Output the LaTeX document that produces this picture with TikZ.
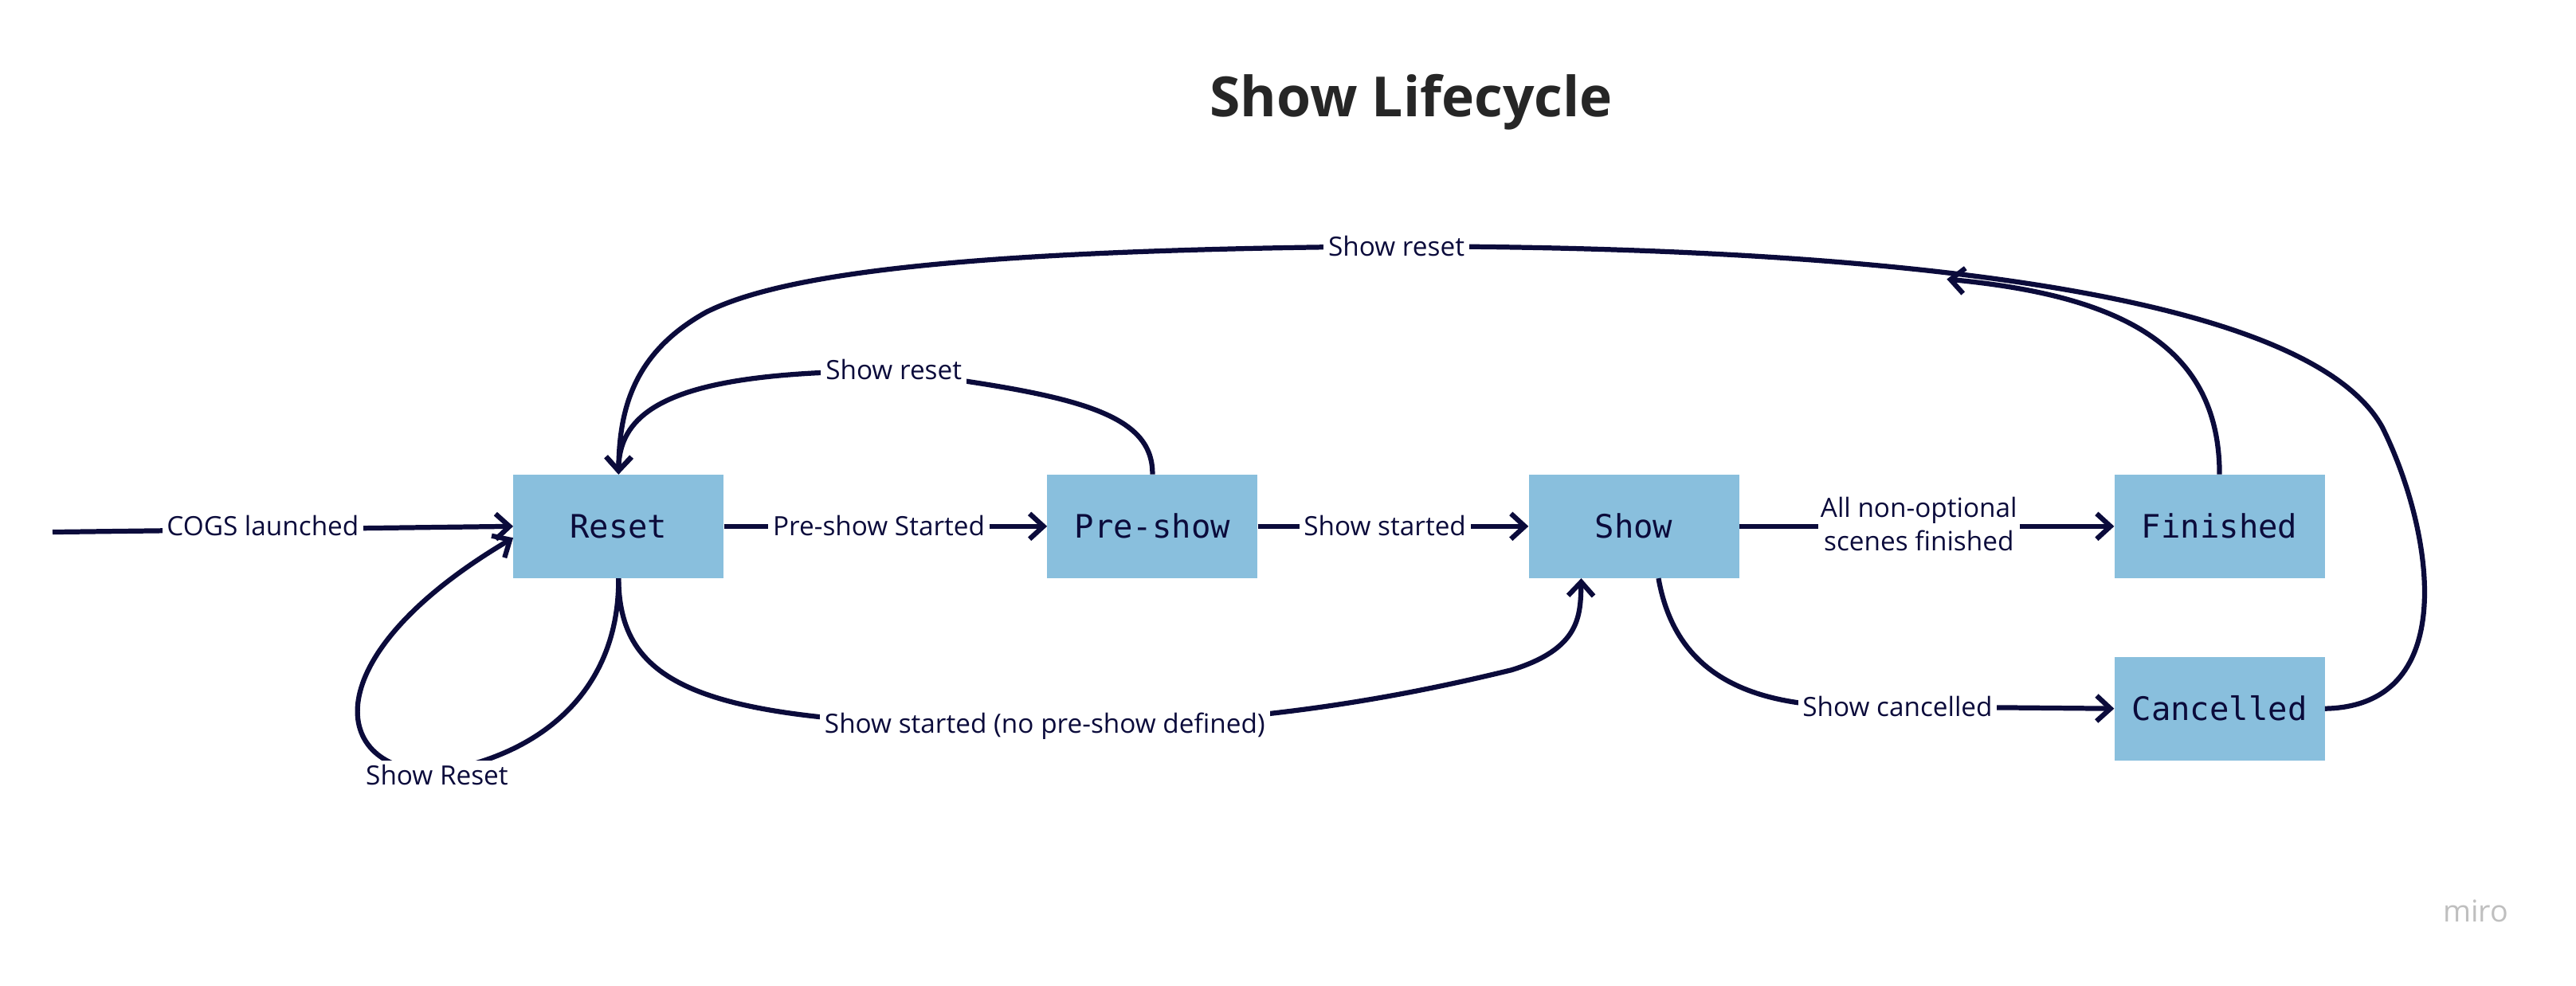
\documentclass[tikz,border=0pt]{standalone}
\usepackage{fontspec}
\setmainfont{Open Sans}
\newfontfamily\boxfont{DejaVu Sans Mono}
\usetikzlibrary{arrows.meta}
\definecolor{navy}{HTML}{0B0B3B}
\definecolor{boxblue}{HTML}{89BFDD}
\begin{document}
\begin{tikzpicture}[x=0.05cm,y=-0.05cm,
  state/.style={fill=boxblue,minimum width=6.4cm,minimum height=3.15cm,inner sep=0pt,font=\boxfont\fontsize{28}{32}\selectfont,text=navy},
  lbl/.style={fill=white,inner sep=4pt,font=\fontsize{23}{29}\selectfont,text=navy,align=center},
  conn/.style={draw=navy,line width=4.3pt,-{Straight Barb[length=12pt,width=22pt,line width=4.3pt]}},
  plain/.style={draw=navy,line width=4.3pt}]
\useasboundingbox (0,0) rectangle (1568,600);
\node[font=\bfseries\fontsize{48}{56}\selectfont,text=black!85] (title) at (859,62) {Show Lifecycle};
\node[state] (reset) at (376.5,320.5) {Reset};
\node[state] (pre) at (701.5,320.5) {Pre-show};
\node[state] (show) at (994.5,320.5) {Show};
\node[state] (fin) at (1351,320.5) {Finished};
\node[state] (can) at (1351,431.5) {Cancelled};
\coordinate (start) at (32,324);
% straight
\draw[conn] (start) -- (reset.west);
\node[lbl] (l1) at (160,320) {COGS launched};
\draw[conn] (reset) -- (pre);
\node[lbl] (l2) at (535,320) {Pre-show Started};
\draw[conn] (pre) -- (show);
\node[lbl] (l3) at (843,320) {Show started};
\draw[conn] (show) -- (fin);
\node[lbl,inner sep=2pt] (l4) at (1168,319) {All non-optional\\scenes finished};
% show cancelled
\draw[conn] ([xshift=0.75cm]show.south) .. controls (1018,400) and (1050,428) .. (1120,430) -- (can.west);
\node[lbl] (l5) at (1155,430) {Show cancelled};
% no pre-show
\draw[conn] (reset.south) .. controls (377,420) and (430,442) .. (636,442)
  .. controls (760,442) and (850,425) .. (920,408) .. controls (962,395) and (962,375) .. ([xshift=-1.6cm]show.south);
\node[lbl] (l6) at (636,442) {Show started (no pre-show defined)};
% self loop
\draw[conn] (reset.south) .. controls (377,420) and (330,460) .. (266,470)
  .. controls (200,470) and (190,400) .. ([yshift=-0.35cm]reset.west);
\node[lbl] (l7) at (266,472) {Show Reset};
% pre-show reset
\draw[conn] (pre.north) .. controls (702,250) and (650,240) .. (544,226)
  .. controls (420,226) and (377,245) .. (reset.north);
\node[lbl] (l8) at (544,225) {Show reset};
% big loop
\coordinate (tip) at (1185,170);
\draw[conn] (fin.north) .. controls (1351,210) and (1290,180) .. (tip);
\draw[conn] (can.east) .. controls (1500,430) and (1480,320) .. (1450,260)
  .. controls (1400,170) and (1100,150) .. (850,150)
  .. controls (600,152) and (480,165) .. (430,190)
  .. controls (385,215) and (377,250) .. (reset.north);
\node[lbl] (l9) at (850,150) {Show reset};
\node[font=\fontsize{26}{30}\selectfont,text=black!25] (miro) at (1507,555) {miro};
\end{tikzpicture}
\end{document}
